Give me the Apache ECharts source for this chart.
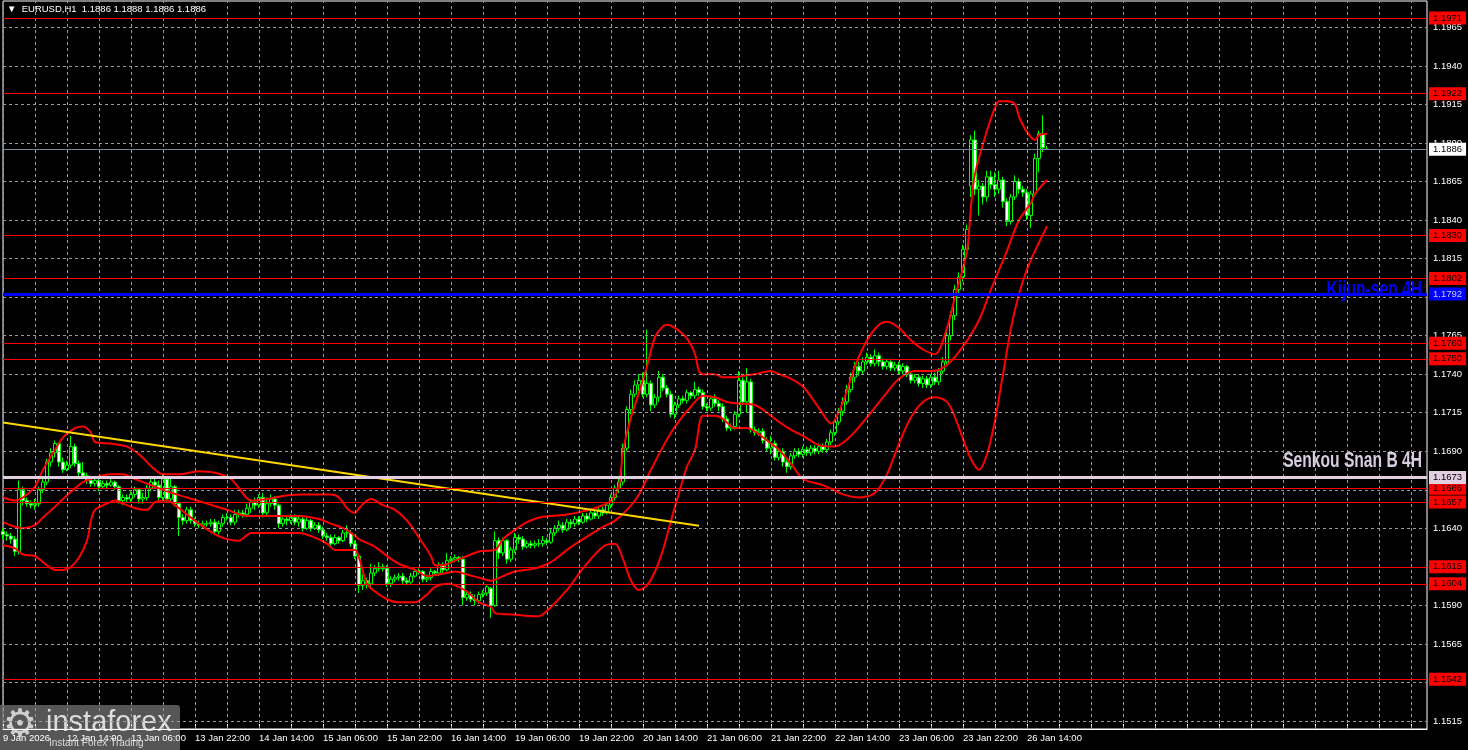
<!DOCTYPE html>
<html><head><meta charset="utf-8">
<script src="https://cdn.jsdelivr.net/npm/echarts@6/dist/echarts.min.js"></script>
<style>html,body{margin:0;padding:0;background:#000}#c{width:1468px;height:750px}</style>
</head><body><div id="c"></div>
<script>
// ---------- DATA ----------
const symbolTitle = '▼  EURUSD,H1  1.1886 1.1888 1.1886 1.1886';
const firstBarUTC = Date.UTC(2026, 0, 9, 22); // 9 Jan 2026 22:00
const slotCount = 357; // visible bar slots on the time axis

const xTickLabels = ['9 Jan 2026','12 Jan 14:00','13 Jan 06:00','13 Jan 22:00','14 Jan 14:00','15 Jan 06:00','15 Jan 22:00','16 Jan 14:00','19 Jan 06:00','19 Jan 22:00','20 Jan 14:00','21 Jan 06:00','21 Jan 22:00','22 Jan 14:00','23 Jan 06:00','23 Jan 22:00','26 Jan 14:00'];
const yTicks = [1.1515,1.1540,1.1565,1.1590,1.1615,1.1640,1.1665,1.1690,1.1715,1.1740,1.1765,1.1790,1.1815,1.1840,1.1865,1.1890,1.1915,1.1940,1.1965];
const yMin = 1.15098, yMax = 1.19821;

// [open, close, low, high]
const candles = [
// 9 Jan 22:00
[1.1638,1.1636,1.1633,1.1640],[1.1636,1.1635,1.1632,1.1638],
// 12 Jan 00:00
[1.1635,1.1633,1.1630,1.1637],[1.1633,1.1625,1.1622,1.1635],[1.1625,1.1665,1.1623,1.1671],[1.1665,1.1658,1.1655,1.1667],
[1.1658,1.1656,1.1654,1.1660],[1.1656,1.1655,1.1653,1.1658],[1.1655,1.1656,1.1652,1.1659],[1.1656,1.1665,1.1654,1.1667],
[1.1665,1.1670,1.1663,1.1672],[1.1670,1.1683,1.1668,1.1685],[1.1683,1.1689,1.1680,1.1692],[1.1689,1.1695,1.1686,1.1697],
[1.1695,1.1683,1.1680,1.1696],[1.1683,1.1678,1.1676,1.1686],[1.1678,1.1681,1.1677,1.1684],[1.1681,1.1693,1.1679,1.1700],
[1.1693,1.1682,1.1680,1.1695],[1.1682,1.1676,1.1674,1.1684],[1.1676,1.1674,1.1672,1.1683],[1.1674,1.1671,1.1669,1.1676],
[1.1671,1.1669,1.1667,1.1673],[1.1669,1.1671,1.1667,1.1674],[1.1671,1.1667,1.1664,1.1673],[1.1667,1.1669,1.1666,1.1671],
// 13 Jan
[1.1669,1.1668,1.1666,1.1671],[1.1668,1.1670,1.1667,1.1672],[1.1670,1.1667,1.1665,1.1671],[1.1667,1.1658,1.1656,1.1668],
[1.1658,1.1660,1.1655,1.1662],[1.1660,1.1659,1.1657,1.1662],[1.1659,1.1662,1.1657,1.1664],[1.1662,1.1665,1.1660,1.1667],
[1.1665,1.1659,1.1656,1.1666],[1.1659,1.1660,1.1656,1.1663],[1.1660,1.1666,1.1658,1.1668],[1.1666,1.1670,1.1664,1.1672],
[1.1670,1.1668,1.1666,1.1672],[1.1668,1.1660,1.1658,1.1671],[1.1660,1.1672,1.1658,1.1675],[1.1672,1.1659,1.1657,1.1674],
[1.1659,1.1667,1.1657,1.1672],[1.1667,1.1656,1.1654,1.1668],[1.1656,1.1647,1.1635,1.1657],[1.1647,1.1645,1.1642,1.1649],
[1.1645,1.1652,1.1643,1.1654],[1.1652,1.1645,1.1643,1.1654],[1.1645,1.1643,1.1641,1.1647],[1.1643,1.1642,1.1640,1.1645],
// 14 Jan
[1.1642,1.1643,1.1640,1.1645],[1.1643,1.1643,1.1641,1.1645],[1.1643,1.1644,1.1641,1.1646],[1.1644,1.1638,1.1636,1.1646],
[1.1638,1.1643,1.1636,1.1645],[1.1643,1.1647,1.1641,1.1649],[1.1647,1.1647,1.1645,1.1650],[1.1647,1.1644,1.1642,1.1649],
[1.1644,1.1649,1.1642,1.1652],[1.1649,1.1650,1.1647,1.1652],[1.1650,1.1649,1.1647,1.1652],[1.1649,1.1653,1.1647,1.1656],
[1.1653,1.1657,1.1650,1.1659],[1.1657,1.1655,1.1652,1.1660],[1.1655,1.1660,1.1653,1.1662],[1.1660,1.1650,1.1647,1.1663],
[1.1650,1.1656,1.1648,1.1660],[1.1656,1.1659,1.1654,1.1662],[1.1659,1.1655,1.1652,1.1661],[1.1655,1.1643,1.1640,1.1656],
[1.1643,1.1646,1.1641,1.1648],[1.1646,1.1645,1.1642,1.1648],[1.1645,1.1647,1.1643,1.1649],[1.1647,1.1644,1.1642,1.1649],
// 15 Jan
[1.1644,1.1646,1.1641,1.1648],[1.1646,1.1640,1.1638,1.1648],[1.1640,1.1645,1.1639,1.1647],[1.1645,1.1640,1.1638,1.1646],
[1.1640,1.1642,1.1639,1.1644],[1.1642,1.1639,1.1637,1.1644],[1.1639,1.1635,1.1633,1.1641],[1.1635,1.1634,1.1632,1.1637],
[1.1634,1.1630,1.1628,1.1636],[1.1630,1.1634,1.1629,1.1636],[1.1634,1.1632,1.1630,1.1635],[1.1632,1.1637,1.1631,1.1639],
[1.1637,1.1637,1.1634,1.1642],[1.1637,1.1630,1.1628,1.1639],[1.1630,1.1622,1.1620,1.1632],[1.1622,1.1603,1.1598,1.1623],
[1.1603,1.1606,1.1600,1.1610],[1.1606,1.1604,1.1601,1.1608],[1.1604,1.1611,1.1602,1.1617],[1.1611,1.1614,1.1609,1.1616],
[1.1614,1.1615,1.1612,1.1618],[1.1615,1.1614,1.1612,1.1617],[1.1614,1.1604,1.1602,1.1616],[1.1604,1.1607,1.1602,1.1609],
// 16 Jan
[1.1607,1.1608,1.1605,1.1610],[1.1608,1.1609,1.1606,1.1611],[1.1609,1.1606,1.1604,1.1611],[1.1606,1.1605,1.1603,1.1608],
[1.1605,1.1609,1.1604,1.1611],[1.1609,1.1612,1.1608,1.1614],[1.1612,1.1612,1.1610,1.1614],[1.1612,1.1607,1.1605,1.1613],
[1.1607,1.1608,1.1605,1.1610],[1.1608,1.1612,1.1606,1.1614],[1.1612,1.1611,1.1609,1.1613],[1.1611,1.1616,1.1609,1.1618],
[1.1616,1.1613,1.1611,1.1618],[1.1613,1.1619,1.1612,1.1624],[1.1619,1.1620,1.1617,1.1622],[1.1620,1.1621,1.1618,1.1623],
[1.1621,1.1620,1.1618,1.1622],[1.1620,1.1595,1.1590,1.1622],[1.1595,1.1597,1.1593,1.1599],[1.1597,1.1594,1.1592,1.1599],
[1.1594,1.1593,1.1590,1.1597],[1.1593,1.1597,1.1591,1.1599],[1.1597,1.1598,1.1595,1.1600],[1.1598,1.1602,1.1596,1.1603],
// 19 Jan
[1.1601,1.1590,1.1582,1.1602],[1.1590,1.1632,1.1589,1.1638],[1.1632,1.1624,1.1620,1.1634],[1.1624,1.1632,1.1622,1.1634],
[1.1632,1.1620,1.1617,1.1633],[1.1620,1.1626,1.1618,1.1628],[1.1626,1.1634,1.1624,1.1637],[1.1634,1.1633,1.1630,1.1636],
[1.1633,1.1628,1.1626,1.1635],[1.1628,1.1630,1.1627,1.1632],[1.1630,1.1629,1.1627,1.1632],[1.1629,1.1630,1.1627,1.1632],
[1.1630,1.1630,1.1628,1.1633],[1.1630,1.1632,1.1628,1.1635],[1.1632,1.1631,1.1629,1.1634],[1.1631,1.1637,1.1630,1.1640],
[1.1637,1.1640,1.1635,1.1642],[1.1640,1.1642,1.1638,1.1645],[1.1642,1.1639,1.1637,1.1644],[1.1639,1.1644,1.1638,1.1646],
[1.1644,1.1643,1.1640,1.1646],[1.1643,1.1646,1.1641,1.1648],[1.1646,1.1644,1.1642,1.1648],[1.1644,1.1648,1.1643,1.1650],
// 20 Jan
[1.1648,1.1646,1.1644,1.1650],[1.1646,1.1650,1.1645,1.1652],[1.1650,1.1648,1.1646,1.1652],[1.1648,1.1652,1.1646,1.1654],
[1.1652,1.1650,1.1648,1.1654],[1.1650,1.1655,1.1649,1.1657],[1.1655,1.1660,1.1653,1.1662],[1.1660,1.1666,1.1658,1.1668],
[1.1666,1.1670,1.1663,1.1673],[1.1670,1.1692,1.1668,1.1695],[1.1692,1.1717,1.1690,1.1719],[1.1717,1.1727,1.1714,1.1730],
[1.1727,1.1733,1.1725,1.1736],[1.1733,1.1736,1.1729,1.1740],[1.1736,1.1727,1.1725,1.1741],[1.1727,1.1734,1.1725,1.1769],
[1.1734,1.1720,1.1716,1.1736],[1.1720,1.1725,1.1718,1.1727],[1.1725,1.1738,1.1722,1.1742],[1.1738,1.1731,1.1729,1.1740],
[1.1731,1.1727,1.1725,1.1733],[1.1727,1.1714,1.1712,1.1729],[1.1714,1.1720,1.1711,1.1722],[1.1720,1.1724,1.1718,1.1726],
// 21 Jan
[1.1724,1.1723,1.1721,1.1726],[1.1723,1.1728,1.1721,1.1730],[1.1728,1.1726,1.1724,1.1729],[1.1726,1.1730,1.1724,1.1735],
[1.1730,1.1728,1.1726,1.1732],[1.1728,1.1719,1.1717,1.1730],[1.1719,1.1718,1.1716,1.1721],[1.1718,1.1724,1.1716,1.1726],
[1.1724,1.1721,1.1719,1.1727],[1.1721,1.1719,1.1716,1.1723],[1.1719,1.1711,1.1709,1.1721],[1.1711,1.1705,1.1703,1.1713],
[1.1705,1.1706,1.1703,1.1708],[1.1706,1.1714,1.1704,1.1716],[1.1714,1.1736,1.1712,1.1742],[1.1736,1.1722,1.1720,1.1738],
[1.1722,1.1735,1.1715,1.1744],[1.1735,1.1704,1.1702,1.1737],[1.1704,1.1702,1.1700,1.1706],[1.1702,1.1703,1.1700,1.1705],
[1.1703,1.1697,1.1695,1.1705],[1.1697,1.1692,1.1690,1.1699],[1.1692,1.1695,1.1688,1.1700],[1.1695,1.1686,1.1684,1.1697],
// 22 Jan
[1.1686,1.1690,1.1684,1.1692],[1.1690,1.1683,1.1680,1.1692],[1.1683,1.1680,1.1676,1.1685],[1.1680,1.1687,1.1678,1.1689],
[1.1687,1.1690,1.1685,1.1692],[1.1690,1.1688,1.1686,1.1692],[1.1688,1.1691,1.1686,1.1693],[1.1691,1.1689,1.1687,1.1693],
[1.1689,1.1692,1.1687,1.1694],[1.1692,1.1690,1.1688,1.1694],[1.1690,1.1693,1.1688,1.1695],[1.1693,1.1691,1.1689,1.1695],
[1.1691,1.1696,1.1689,1.1698],[1.1696,1.1702,1.1694,1.1704],[1.1702,1.1709,1.1700,1.1711],[1.1709,1.1716,1.1707,1.1718],
[1.1716,1.1722,1.1713,1.1725],[1.1722,1.1730,1.1720,1.1733],[1.1730,1.1738,1.1728,1.1741],[1.1738,1.1745,1.1735,1.1748],
[1.1745,1.1742,1.1739,1.1748],[1.1742,1.1748,1.1740,1.1751],[1.1748,1.1751,1.1746,1.1754],[1.1751,1.1747,1.1745,1.1753],
// 23 Jan
[1.1747,1.1752,1.1745,1.1756],[1.1752,1.1748,1.1745,1.1754],[1.1748,1.1745,1.1743,1.1750],[1.1745,1.1748,1.1743,1.1750],
[1.1748,1.1744,1.1742,1.1749],[1.1744,1.1746,1.1742,1.1748],[1.1746,1.1742,1.1740,1.1748],[1.1742,1.1745,1.1740,1.1747],
[1.1745,1.1740,1.1738,1.1746],[1.1740,1.1736,1.1734,1.1742],[1.1736,1.1738,1.1734,1.1740],[1.1738,1.1734,1.1732,1.1740],
[1.1734,1.1737,1.1731,1.1739],[1.1737,1.1733,1.1731,1.1739],[1.1733,1.1738,1.1731,1.1740],[1.1738,1.1735,1.1733,1.1741],
[1.1735,1.1742,1.1733,1.1744],[1.1742,1.1748,1.1740,1.1751],[1.1748,1.1765,1.1746,1.1768],[1.1765,1.1778,1.1762,1.1781],
[1.1778,1.1795,1.1775,1.1798],[1.1795,1.1803,1.1792,1.1806],[1.1803,1.1821,1.1800,1.1824],[1.1821,1.1834,1.1818,1.1837],
// 26 Jan
[1.1862,1.1892,1.1855,1.1895],[1.1892,1.1860,1.1856,1.1898],[1.1860,1.1862,1.1843,1.1866],[1.1862,1.1855,1.1850,1.1864],
[1.1855,1.1868,1.1852,1.1872],[1.1868,1.1863,1.1860,1.1872],[1.1863,1.1860,1.1855,1.1871],[1.1860,1.1866,1.1857,1.1872],
[1.1866,1.1852,1.1848,1.1868],[1.1852,1.1839,1.1836,1.1854],[1.1839,1.1855,1.1837,1.1857],[1.1855,1.1865,1.1853,1.1869],
[1.1865,1.1860,1.1857,1.1867],[1.1860,1.1858,1.1855,1.1862],[1.1858,1.1843,1.1840,1.1860],[1.1843,1.1857,1.1835,1.1859],
[1.1857,1.1880,1.1855,1.1883],[1.1880,1.1896,1.1871,1.1898],[1.1896,1.1887,1.1884,1.1908],[1.1886,1.1886,1.1886,1.1888]
];

// Bollinger bands: [bar index, price]
const bandUpper = [[0,1.1660],[3,1.1658],[5,1.1660],[8,1.1667],[10,1.1678],[13,1.1691],[15,1.1699],[18,1.1705],[20,1.1706],[22,1.1702],[23,1.1696],[27,1.1695],[31,1.1693],[34,1.1688],[38,1.1678],[40,1.1675],[44,1.1675],[49,1.1677],[53,1.1676],[57,1.1672],[59,1.1666],[62,1.1658],[66,1.1659],[70,1.1661],[74,1.1662],[78,1.1662],[82,1.1662],[84,1.1660],[86,1.1653],[88,1.1650],[89,1.1653],[91,1.1658],[92,1.1659],[95,1.1655],[98,1.1652],[101,1.1645],[104,1.1634],[107,1.1622],[108,1.1616],[110,1.1616],[113,1.1619],[116,1.1622],[119,1.1625],[123,1.1626],[125,1.1633],[128,1.1639],[131,1.1644],[134,1.1647],[137,1.1648],[141,1.1649],[145,1.1651],[149,1.1654],[152,1.1658],[154,1.1668],[155,1.1690],[157,1.1712],[159,1.1728],[161,1.1745],[163,1.1764],[165,1.1771],[166,1.1772],[168,1.1770],[171,1.1763],[173,1.1753],[174,1.1742],[175,1.1740],[178,1.1740],[180,1.1738],[183,1.1738],[185,1.1739],[188,1.1740],[192,1.1742],[194,1.1740],[197,1.1737],[200,1.1732],[204,1.1718],[207,1.1708],[210,1.1722],[213,1.1745],[216,1.1762],[219,1.1772],[221,1.1774],[224,1.1770],[227,1.1762],[230,1.1756],[233,1.1753],[236,1.1770],[238,1.1790],[241,1.1820],[242,1.1849],[243,1.1870],[246,1.1898],[248,1.1913],[249,1.1917],[251,1.1917],[253,1.1915],[254,1.1907],[256,1.1897],[258,1.1892],[259,1.1895],[261,1.1896]];
const bandMiddle = [[0,1.1644],[3,1.1641],[5,1.1640],[8,1.1642],[10,1.1647],[13,1.1654],[15,1.1659],[18,1.1666],[20,1.1670],[23,1.1673],[27,1.1675],[30,1.1675],[33,1.1672],[37,1.1668],[41,1.1664],[46,1.1660],[51,1.1656],[56,1.1652],[61,1.1648],[66,1.1648],[70,1.1648],[74,1.1648],[79,1.1646],[82,1.1643],[86,1.1639],[89,1.1633],[93,1.1628],[96,1.1622],[99,1.1617],[103,1.1613],[106,1.1609],[109,1.1610],[113,1.1612],[116,1.1610],[119,1.1608],[122,1.1606],[125,1.1609],[128,1.1612],[133,1.1614],[137,1.1618],[141,1.1626],[145,1.1633],[150,1.1641],[153,1.1645],[156,1.1652],[159,1.1662],[162,1.1678],[165,1.1693],[168,1.1706],[172,1.1719],[175,1.1726],[178,1.1725],[181,1.1722],[184,1.1721],[188,1.1720],[191,1.1715],[194,1.1709],[197,1.1704],[200,1.1700],[204,1.1694],[208,1.1693],[212,1.1700],[216,1.1712],[220,1.1725],[224,1.1737],[228,1.1742],[232,1.1742],[236,1.1746],[240,1.1758],[244,1.1775],[247,1.1795],[251,1.1820],[254,1.1840],[257,1.1851],[258,1.1857],[261,1.1866]];
const bandLower = [[0,1.1629],[3,1.1627],[5,1.1623],[8,1.1622],[10,1.1618],[13,1.1613],[15,1.1613],[17,1.1615],[19,1.1621],[21,1.1632],[22,1.1645],[23,1.1652],[26,1.1656],[28,1.1658],[30,1.1656],[33,1.1653],[36,1.1652],[38,1.1657],[41,1.1658],[43,1.1655],[46,1.1649],[49,1.1643],[53,1.1636],[56,1.1633],[59,1.1632],[62,1.1637],[66,1.1637],[70,1.1637],[74,1.1637],[78,1.1634],[81,1.1630],[83,1.1626],[88,1.1626],[89,1.1621],[91,1.1604],[93,1.1599],[96,1.1594],[99,1.1592],[103,1.1592],[106,1.1597],[108,1.1602],[111,1.1604],[113,1.1603],[116,1.1599],[119,1.1592],[122,1.1589],[123,1.1585],[128,1.1584],[133,1.1583],[134,1.1583],[137,1.1589],[141,1.1600],[145,1.1614],[150,1.1628],[153,1.1630],[155,1.1620],[157,1.1606],[159,1.1600],[161,1.1603],[163,1.1612],[165,1.1626],[167,1.1645],[169,1.1663],[171,1.1680],[173,1.1691],[175,1.1713],[178,1.1713],[180,1.1711],[183,1.1705],[186,1.1705],[189,1.1701],[192,1.1695],[194,1.1691],[197,1.1682],[200,1.1672],[205,1.1668],[210,1.1662],[214,1.1660],[218,1.1663],[221,1.1675],[224,1.1695],[227,1.1712],[230,1.1722],[233,1.1725],[236,1.1722],[238,1.1712],[240,1.1698],[242,1.1685],[244,1.1678],[246,1.1688],[248,1.1710],[250,1.1740],[252,1.1770],[254,1.1792],[256,1.1808],[258,1.1820],[261,1.1836]];

const trendLine = [[0,1.17087],[174,1.16417]];
const redLevels = [1.1971,1.1922,1.1830,1.1802,1.1760,1.1750,1.1666,1.1657,1.1615,1.1604,1.1542];
const kijunLevel = 1.1792, senkouLevel = 1.1673, lastPrice = 1.1886;
const kijunText = 'Kijun-sen 4H', senkouText = 'Senkou Snan B 4H';

// ---------- BUILD ----------
const F = '"Liberation Sans", Arial, sans-serif';
const barCount = candles.length;
const gridStep = 8;   // one vertical grid line every 8 bars
const labelStep = 16; // one time label every 16 bars
const categories = [];
let t = firstBarUTC;
for (let k = 0; k < slotCount; k++) {
  if (k < barCount) {
    const d = new Date(t);
    categories.push(d.getUTCFullYear() + '.' + (d.getUTCMonth() + 1) + '.' + d.getUTCDate() + ' ' + d.getUTCHours() + ':00');
    t += 3600e3;
    while ([0, 6].includes(new Date(t).getUTCDay())) t += 3600e3;
  } else categories.push('slot' + k);
}
const vGrid = [];
for (let k = 0; k < slotCount; k += gridStep) vGrid.push({xAxis: k, label: {show: false}});

const boxLabel = (bg, fg) => ({show: true, position: 'end', distance: 2, backgroundColor: bg, color: fg,
  padding: [2, 4, 1, 4], fontSize: 9.5, fontFamily: F, formatter: p => p.value.toFixed(4)});

const levelLines = [];
levelLines.push([{coord: trendLine[0], lineStyle: {color: '#ffd700', width: 2, type: 'solid'}, label: {show: false}}, {coord: trendLine[1]}]);
redLevels.forEach(v => levelLines.push({yAxis: v, lineStyle: {color: '#ff0000', width: 1, type: 'solid'}, label: boxLabel('#ff0000', '#000')}));
levelLines.push({yAxis: lastPrice, lineStyle: {color: '#778899', width: 1, type: 'solid'}, label: boxLabel('#ffffff', '#000')});
levelLines.push({yAxis: senkouLevel, lineStyle: {color: '#e2cfe2', width: 3, type: 'solid'}, label: boxLabel('#e2cfe2', '#000')});
levelLines.push({yAxis: kijunLevel, lineStyle: {color: '#0000ff', width: 3, type: 'solid'}, label: boxLabel('#0000ff', '#c8d0ff')});

const bandSeries = (data) => ({type: 'line', data, smooth: 0.3, symbol: 'none', z: 3, silent: true,
  lineStyle: {color: '#ff0000', width: 2}});

const option = {
  backgroundColor: '#000',
  animation: false,
  grid: {left: 3, right: 41, top: 1, bottom: 21, show: true, borderColor: '#ffffff', borderWidth: 1, backgroundColor: 'transparent'},
  xAxis: {
    type: 'category', data: categories, boundaryGap: false,
    axisLine: {show: true, lineStyle: {color: '#ffffff', width: 1}},
    axisTick: {show: true, inside: true, length: 5, interval: gridStep - 1, lineStyle: {color: '#ffffff'}},
    axisLabel: {show: true, interval: labelStep - 1, formatter: (v, i) => (i < barCount ? xTickLabels[Math.round(i / labelStep)] : ''),
      color: '#ffffff', fontSize: 9.5, fontFamily: F, align: 'left', margin: 4},
    splitLine: {show: false}
  },
  yAxis: {type: 'value', min: yMin, max: yMax, show: false, scale: true},
  series: [
    {type: 'line', data: [], z: 1, silent: true,
     markLine: {symbol: ['none', 'none'], silent: true, animation: false, precision: 5,
       lineStyle: {color: '#9a9a9a', type: [3, 3], width: 1},
       label: {show: true, position: 'end', distance: 6, color: '#ffffff', fontSize: 9.5, fontFamily: F, formatter: p => p.value.toFixed(4)},
       data: yTicks.map(v => ({yAxis: v})).concat(vGrid)}},
    {type: 'candlestick', data: candles, barWidth: 3, z: 2, clip: false, silent: true,
     itemStyle: {color: '#000000', color0: '#ffffff', borderColor: '#00ff00', borderColor0: '#00ff00', borderWidth: 1}},
    bandSeries(bandUpper), bandSeries(bandMiddle), bandSeries(bandLower),
    {type: 'line', data: [], z: 5, silent: true,
     markLine: {symbol: ['none', 'none'], silent: true, animation: false, precision: 5, data: levelLines}}
  ]
};

const chart = echarts.init(document.getElementById('c'));
chart.setOption(option);

const yK = chart.convertToPixel({yAxisIndex: 0}, kijunLevel);
const yS = chart.convertToPixel({yAxisIndex: 0}, senkouLevel);
const rightEdge = chart.convertToPixel({xAxisIndex: 0}, slotCount - 1);

chart.setOption({
  graphic: [
    {type: 'text', left: 7, top: 4, z: 10, style: {text: symbolTitle, fill: '#ffffff', font: '9.5px ' + F}},
    {type: 'text', x: rightEdge - 5, y: yK - 4, scaleX: 0.71, z: 10,
     style: {text: kijunText, fill: '#0000ff', font: 'bold 22px ' + F, align: 'right', verticalAlign: 'middle'}},
    {type: 'text', x: rightEdge - 5, y: yS - 17, scaleX: 0.71, z: 10,
     style: {text: senkouText, fill: '#d8cce0', font: 'bold 22px ' + F, align: 'right', verticalAlign: 'middle'}},
    {type: 'group', left: 0, bottom: 0, z: 20, children: [
      {type: 'rect', shape: {x: 0, y: 0, width: 180, height: 45, r: [0, 3, 0, 0]}, style: {fill: 'rgba(105,105,105,0.82)'}},
      {type: 'text', x: 3, y: 2, style: {text: '⚙', fill: '#d0d0d0', font: '38px "DejaVu Sans"'}},
      {type: 'text', x: 46, y: 3, style: {text: 'instaforex', fill: '#dcdcdc', font: '29px ' + F}},
      {type: 'text', x: 49, y: 33, style: {text: 'Instant Forex Trading', fill: '#dcdcdc', font: '10px ' + F}}
    ]}
  ]
});
</script>
</body></html>
